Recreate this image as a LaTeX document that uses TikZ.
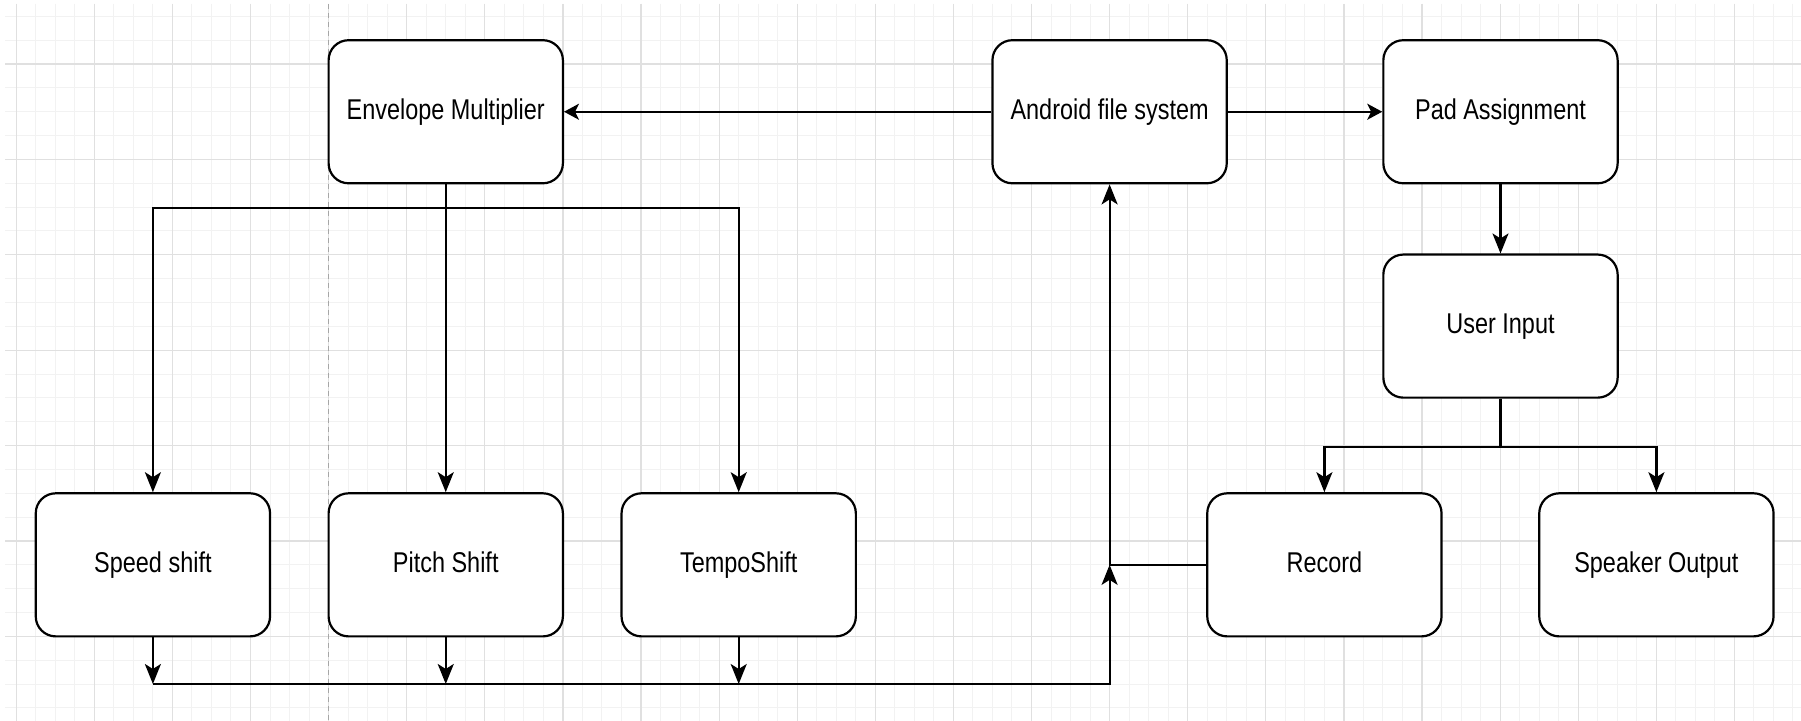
\documentclass[tikz,border=0pt]{standalone}
\usepackage{fontspec}
\setmainfont{Liberation Sans}[FakeStretch=0.82]
\usetikzlibrary{arrows.meta}
\begin{document}
\begin{tikzpicture}[x=0.5pt,y=-0.5pt,
  box/.style={draw=black, line width=1.1pt, rounded corners=10pt, fill=white,
    minimum width=117.15pt, minimum height=71.55pt, inner sep=0pt,
    text height=10.4pt, text depth=2.9pt,
    font=\fontsize{14.3}{17}\selectfont},
  conn/.style={draw=black, line width=1.1pt},
  va/.style={conn, -{Stealth[length=10pt,width=8pt,inset=2.5pt]}},
  ha/.style={conn, -{Stealth[length=7.5pt,width=8pt,inset=2pt]}},
  minorgrid/.style={draw=black!5, line width=0.5pt},
  majorgrid/.style={draw=black!12, line width=0.6pt},
  pagebreak/.style={draw=black!35, line width=0.5pt, dash pattern=on 2.5pt off 2pt}]

% canvas
\useasboundingbox (0,0) rectangle (1801,721);
\fill[white] (0,0) rectangle (1801,721);

% grid
\foreach \i in {0,...,91} \draw[minorgrid] ({16.2+19.525*\i},4) -- ({16.2+19.525*\i},721);
\foreach \i in {0,...,29} \draw[minorgrid] (5,{16.3+23.85*\i}) -- (1801,{16.3+23.85*\i});
\foreach \i in {0,...,22} \draw[majorgrid] ({16.2+78.1*\i},4) -- ({16.2+78.1*\i},721);
\foreach \i in {0,...,6} \draw[majorgrid] (5,{64+95.4*\i}) -- (1801,{64+95.4*\i});
\draw[pagebreak] (328.6,4) -- (328.6,721);

% nodes
\node[box] (env)   at (445.75,111.75) {Envelope Multiplier};
\node[box] (afs)   at (1109.6,111.75) {Android file system};
\node[box] (pad)   at (1500.5,111.75) {Pad Assignment};
\node[box] (user)  at (1500.5,326.1)  {User Input};
\node[box] (speed) at (152.9,564.85)  {Speed shift};
\node[box] (pitch) at (445.75,564.85) {Pitch Shift};
\node[box] (tempo) at (738.7,564.85)  {TempoShift};
\node[box] (rec)   at (1324.4,564.85) {Record};
\node[box] (spk)   at (1656.4,564.85) {Speaker Output};

% helper coordinates
\coordinate (bs) at (152.9,684);
\coordinate (bp) at (445.75,684);
\coordinate (bt) at (738.7,684);
\coordinate (bc) at (1109.6,684);
\coordinate (jr) at (1109.6,564.85);

% connectors
\draw[ha] (afs.west) -- (env.east);
\draw[ha] (afs.east) -- (pad.west);
\draw[va] (pad.south) -- (user.north);
\draw[va] (user.south) -- ++(0,48.1) -| (rec.north);
\draw[va] (user.south) -- ++(0,48.1) -| (spk.north);
\draw[va] (env.south) -- ++(0,23.8) -| (speed.north);
\draw[va] (env.south) -- ++(0,23.8) -| (tempo.north);
\draw[va] (env.south) -- (pitch.north);
\draw[va] (speed.south) -- (bs);
\draw[va] (pitch.south) -- (bp);
\draw[va] (tempo.south) -- (bt);
\draw[va] (bs) -- (bc) -- (jr);
\draw[va] (rec.west) -- (jr) -- (afs.south);
\end{tikzpicture}
\end{document}
